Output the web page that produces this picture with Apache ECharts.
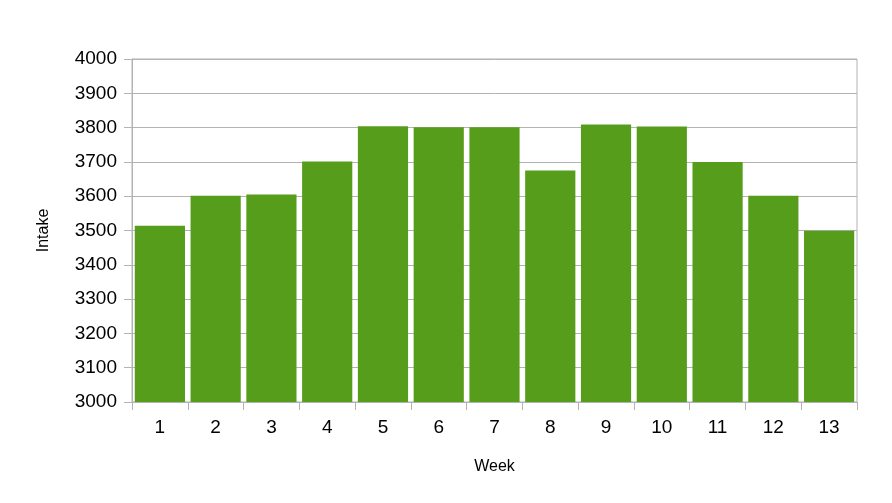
<!DOCTYPE html>
<html>
<head>
<meta charset="utf-8">
<script src="https://cdn.jsdelivr.net/npm/echarts@6/dist/echarts.min.js"></script>
<style>html,body{margin:0;padding:0;background:#fff}#c{width:892px;height:503px}</style>
</head>
<body>
<div id="c"></div>
<script>
var weeks = ['1','2','3','4','5','6','7','8','9','10','11','12','13'];
var intake = [3514, 3601, 3605, 3701, 3804, 3801, 3801, 3675, 3809, 3803, 3700, 3601, 3499];
var yTicks = {min: 3000, max: 4000, interval: 100};

var chart = echarts.init(document.getElementById('c'), null, {renderer: 'canvas'});
chart.setOption({
  animation: false,
  backgroundColor: '#ffffff',
  textStyle: {fontFamily: 'Liberation Sans, Arial, sans-serif'},
  grid: {left: 132, right: 35, top: 59, bottom: 101, show: true, borderColor: '#b3b3b3', borderWidth: 1, containLabel: false},
  xAxis: {
    type: 'category',
    data: weeks,
    name: 'Week',
    nameLocation: 'middle',
    nameGap: 57,
    nameTextStyle: {color: '#000', fontSize: 16, fontFamily: 'Liberation Sans, Arial, sans-serif'},
    axisLine: {lineStyle: {color: '#b3b3b3'}},
    axisTick: {show: true, length: 8, lineStyle: {color: '#b3b3b3'}},
    axisLabel: {color: '#000', fontSize: 19, margin: 16, fontFamily: 'Liberation Sans, Arial, sans-serif'}
  },
  yAxis: {
    type: 'value',
    min: yTicks.min,
    max: yTicks.max,
    interval: yTicks.interval,
    name: 'Intake',
    nameLocation: 'middle',
    nameGap: 80,
    nameRotate: 90,
    nameTextStyle: {color: '#000', fontSize: 16, fontFamily: 'Liberation Sans, Arial, sans-serif'},
    axisLine: {show: true, lineStyle: {color: '#b3b3b3'}},
    axisTick: {show: true, length: 8, lineStyle: {color: '#b3b3b3'}},
    axisLabel: {color: '#000', fontSize: 19, margin: 15, fontFamily: 'Liberation Sans, Arial, sans-serif',
      formatter: function (v) { return String(v); }},
    splitLine: {show: true, lineStyle: {color: '#b3b3b3'}}
  },
  series: [{
    type: 'bar',
    data: intake,
    barCategoryGap: '10%',
    itemStyle: {color: '#579d1c'}
  }]
});
</script>
</body>
</html>
